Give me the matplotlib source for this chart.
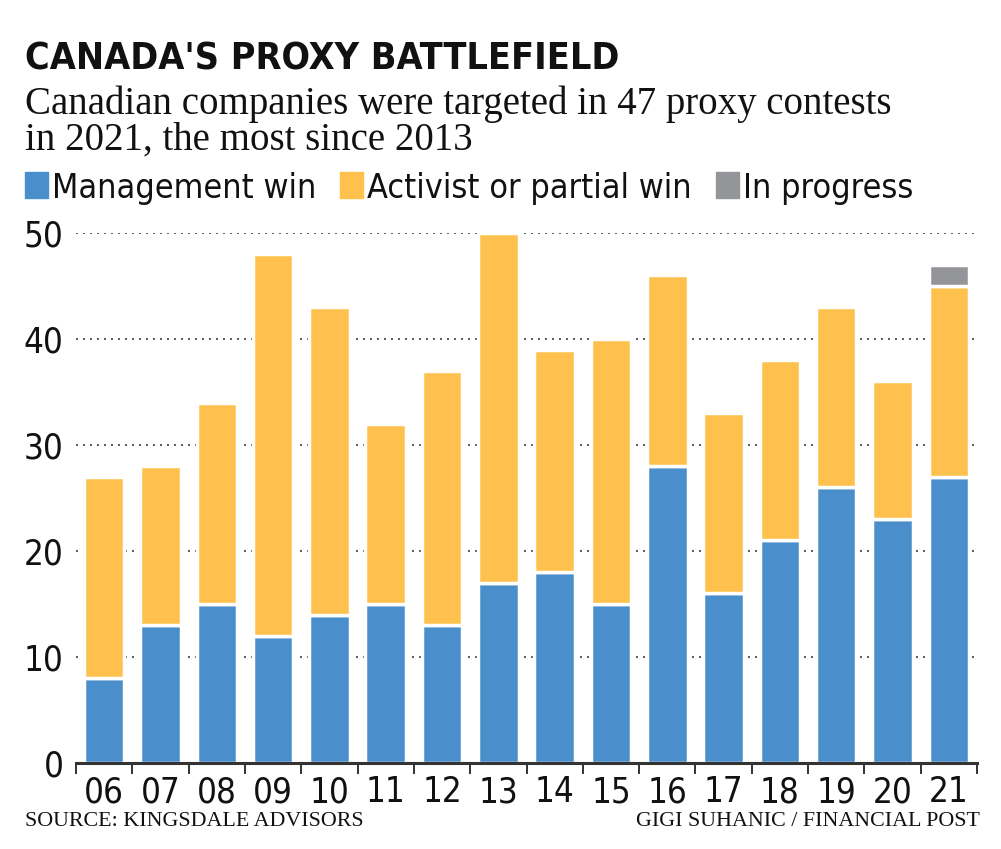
import matplotlib
matplotlib.use("Agg")
import matplotlib.pyplot as plt
from matplotlib import font_manager as fm
from matplotlib.patches import Rectangle

# data
years = ["06", "07", "08", "09", "10", "11", "12", "13",
         "14", "15", "16", "17", "18", "19", "20", "21"]
management = [8, 13, 15, 12, 14, 15, 13, 17, 18, 15, 28, 16, 21, 26, 23, 27]
activist = [19, 15, 19, 36, 29, 17, 24, 33, 21, 25, 18, 17, 17, 17, 13, 18]
in_progress = [0, 0, 0, 0, 0, 0, 0, 0, 0, 0, 0, 0, 0, 0, 0, 2]

series_names = ["Management win", "Activist or partial win", "In progress"]

BLUE = "#4a8fcc"
YELLOW = "#ffc14d"
GRAY = "#939598"


def narrow_font(weight):
    # look for any condensed / narrow sans face that is installed
    found = []
    for f in fm.fontManager.ttflist:
        nm = f.name.lower()
        path = f.fname.lower()
        cond = ("narrow" in nm or "condensed" in nm or "condensed" in str(f.stretch)
                or "condensed" in path or "narrow" in path)
        if not cond or "serif" in nm or "mono" in nm:
            continue
        if "semi" in path or "extra" in path or "ultra" in path:
            continue
        if "italic" in f.style or "oblique" in f.style:
            continue
        w = f.weight if isinstance(f.weight, int) else 400
        found.append((abs(w - weight), f.fname))
    if found:
        found.sort()
        return fm.FontProperties(fname=found[0][1])
    return fm.FontProperties(family="DejaVu Sans", weight=weight)


REG = narrow_font(400)
BOLD = narrow_font(700)
SERIF = ["Liberation Serif", "DejaVu Serif"]

W, H = 1001, 849
fig = plt.figure(figsize=(W / 100, H / 100), dpi=100)

ax = fig.add_axes([76 / W, 1 - 763 / H, (977 - 76) / W, (763 - 233) / H])

x = list(range(len(years)))
bw = 0.72
kw = dict(width=bw, edgecolor="white", linewidth=2.5, zorder=2)
ax.bar(x, management, color=BLUE, **kw)
ax.bar(x, activist, bottom=management, color=YELLOW, **kw)
bottom2 = [m + a for m, a in zip(management, activist)]
prog_x = [i for i, v in zip(x, in_progress) if v > 0]
prog_v = [v for v in in_progress if v > 0]
prog_b = [b for b, v in zip(bottom2, in_progress) if v > 0]
ax.bar(prog_x, prog_v, bottom=prog_b, color=GRAY, **kw)

ax.set_xlim(-0.5, len(years) - 0.5)
ax.set_ylim(0, 50)
ax.set_yticks(range(0, 51, 10))
ax.yaxis.grid(True, linestyle=(0, (1, 2.6)), color="#555555", linewidth=1.4, zorder=0)
ax.set_axisbelow(True)

for s in ["top", "right", "left"]:
    ax.spines[s].set_visible(False)
ax.spines["bottom"].set_color("#333333")
ax.spines["bottom"].set_linewidth(2.2)
ax.spines["bottom"].set_zorder(3)

ax.set_xticks(x)
ax.set_xticklabels(years)
ax.set_xticks([i - 0.5 for i in range(len(years) + 1)], minor=True)
ax.tick_params(axis="x", which="major", length=0, pad=9)
ax.tick_params(axis="x", which="minor", length=8, width=1.4, color="#333333", direction="out")
ax.tick_params(axis="y", length=0, pad=9)
for lab in ax.get_xticklabels() + ax.get_yticklabels():
    lab.set_fontproperties(REG)
    lab.set_fontsize(25)
    lab.set_color("#111111")

# title, subtitle (baseline of a multi-line text is that of its last line)
fig.text(25 / W, 1 - 70 / H, "CANADA'S PROXY BATTLEFIELD", fontproperties=BOLD,
         fontsize=27, va="baseline", color="#111111")
fig.text(25 / W, 1 - 150 / H,
         "Canadian companies were targeted in 47 proxy contests\nin 2021, the most since 2013",
         family=SERIF, fontsize=28, va="baseline", linespacing=0.97, color="#111111")

# legend, laid out left to right from the text widths
renderer = fig.canvas.get_renderer()
sx = 25
for name, col in zip(series_names, [BLUE, YELLOW, GRAY]):
    fig.patches.append(Rectangle((sx / W, 1 - 198 / H), 23 / W, 26 / H,
                                 transform=fig.transFigure, color=col))
    t = fig.text((sx + 27) / W, 1 - 198 / H, name, fontproperties=REG, fontsize=24.5,
                 va="baseline", color="#111111")
    sx = t.get_window_extent(renderer).x1 + 24

# footer
fig.text(25 / W, 1 - 826 / H, "SOURCE: KINGSDALE ADVISORS", family=SERIF,
         fontsize=15.8, va="baseline", color="#111111")
fig.text(980 / W, 1 - 826 / H, "GIGI SUHANIC / FINANCIAL POST", family=SERIF,
         fontsize=15.8, va="baseline", ha="right", color="#111111")

fig.savefig("out.png", dpi=100)
